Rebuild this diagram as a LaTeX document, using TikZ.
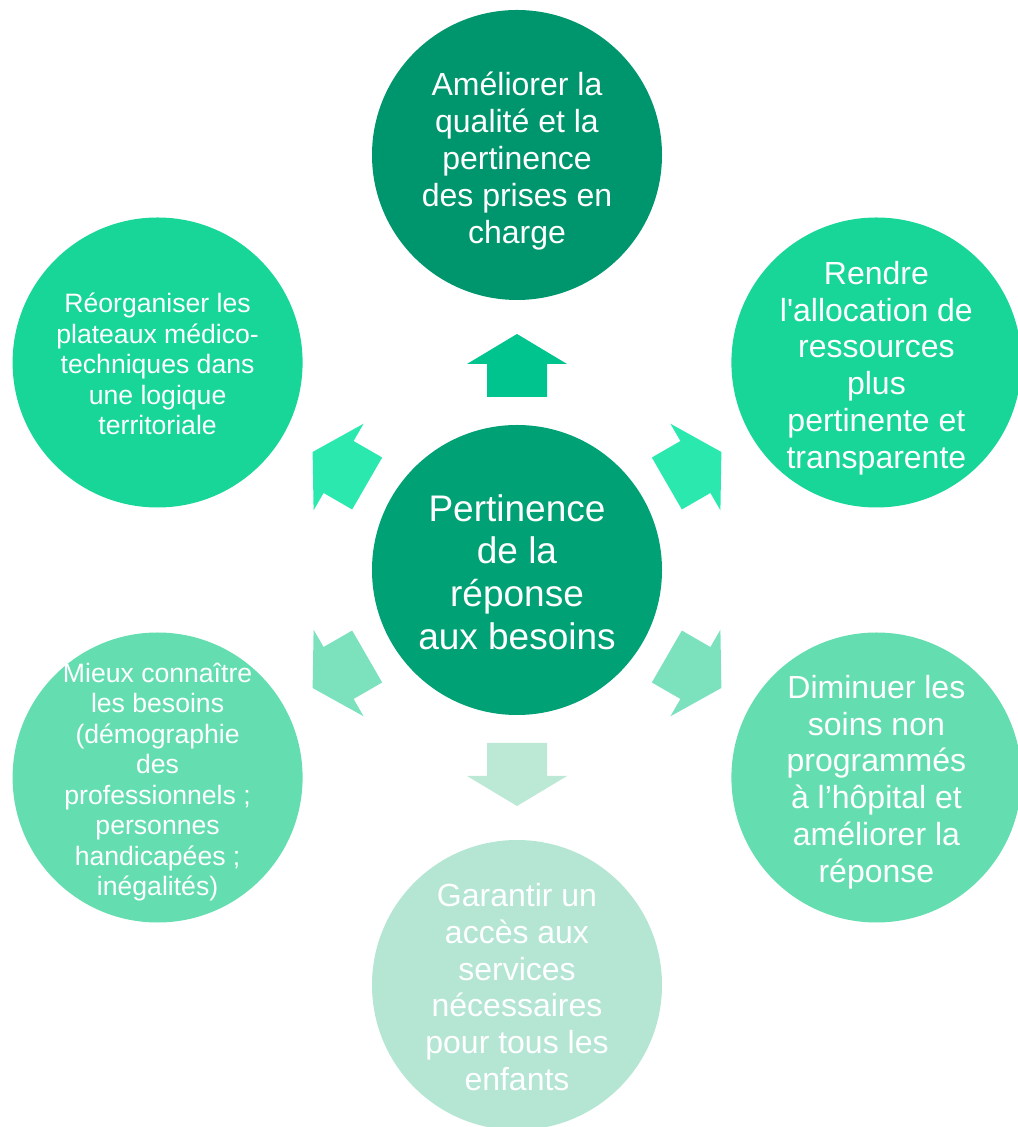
\documentclass[tikz,border=0pt]{standalone}
\usepackage{fontspec}
\setmainfont{Liberation Sans}
\usetikzlibrary{calc}
\definecolor{pbhub}{RGB}{0,161,117}
\definecolor{pbtop}{RGB}{0,150,109}
\definecolor{pbupper}{RGB}{24,214,151}
\definecolor{pblower}{RGB}{100,222,177}
\definecolor{pbbottom}{RGB}{180,230,211}
\definecolor{pbarrtop}{RGB}{0,196,141}
\definecolor{pbarrupper}{RGB}{42,232,174}
\definecolor{pbarrlower}{RGB}{124,226,190}
\definecolor{pbarrbottom}{RGB}{188,232,214}
\tikzset{
  goal/.style={circle, inner sep=0pt, minimum size=145pt},
  hubtxt/.style={align=center, text=white, font=\fontsize{18.5}{21.35}\selectfont},
  bigtxt/.style={align=center, text=white, font=\fontsize{16}{18.4}\selectfont},
  smalltxt/.style={align=center, text=white, font=\fontsize{13.3}{15.25}\selectfont},
}
\begin{document}
\begin{tikzpicture}[x=0.5pt, y=0.5pt]
  \useasboundingbox (-517,570) rectangle (500,-557);

  % ===== circles, hub in the middle, six goals round it =====
  \node[goal, fill=pbhub] (hub) at (0,0) {};
  \node[goal, fill=pbtop] (top) at (90:415) {};
  \node[goal, fill=pbupper] (topright) at (30:415) {};
  \node[goal, fill=pblower] (botright) at (-30:415) {};
  \node[goal, fill=pbbottom] (bottom) at (-90:415) {};
  \node[goal, fill=pblower] (botleft) at (210:415) {};
  \node[goal, fill=pbupper] (topleft) at (150:415) {};

  % ===== block arrows, half way out from the hub =====
  \foreach \ang/\col in {90/pbarrtop, 30/pbarrupper, 150/pbarrupper,
                         -30/pbarrlower, 210/pbarrlower, -90/pbarrbottom} {
    \coordinate (arr\ang) at ($(hub)+(\ang:204)$);
    \fill[\col, shift={(arr\ang)}, rotate=\ang]
      (32,0) -- (2,50) -- (2,30) -- (-31,30) -- (-31,-30) -- (2,-30) -- (2,-50) -- cycle;
  }

  % ===== texts =====
  \node[hubtxt] (hubt) at ([yshift=-1pt]hub.center) {Pertinence\\de la\\réponse\\aux besoins};
  \node[bigtxt] (topt) at ([yshift=-3pt]top.center) {Améliorer la\\qualité et la\\pertinence\\des prises en\\charge};
  \node[bigtxt] (toprightt) at ([yshift=-2.75pt]topright.center) {Rendre\\l\textquotesingle allocation de\\ressources\\plus\\pertinente et\\transparente};
  \node[bigtxt] (botrightt) at ([yshift=-2.25pt]botright.center) {Diminuer les\\soins non\\programmés\\à l’hôpital et\\améliorer la\\réponse};
  \node[bigtxt] (bottomt) at ([yshift=-1pt]bottom.center) {Garantir un\\accès aux\\services\\nécessaires\\pour tous les\\enfants};
  \node[smalltxt] (botleftt) at ([yshift=-2.25pt]botleft.center) {Mieux connaître\\les besoins\\(démographie\\des\\professionnels ;\\personnes\\handicapées ;\\inégalités)};
  \node[smalltxt] (toplefft) at ([yshift=-0.75pt]topleft.center) {Réorganiser les\\plateaux médico-\\techniques dans\\une logique\\territoriale};

\end{tikzpicture}
\end{document}
